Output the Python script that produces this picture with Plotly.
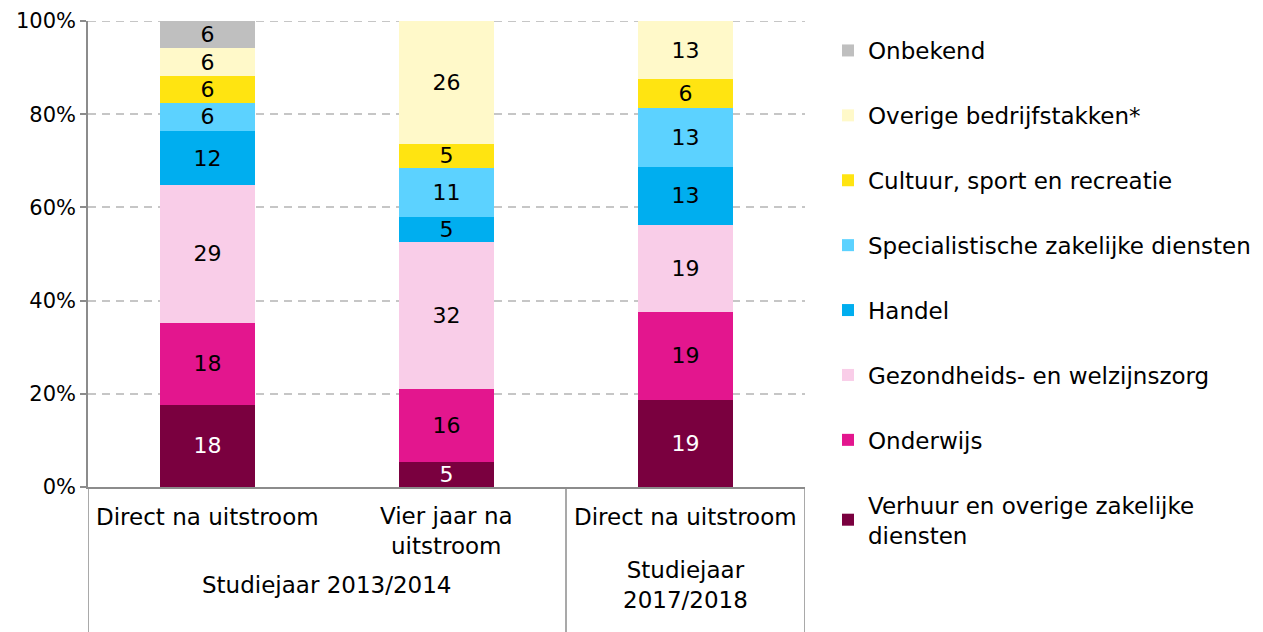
import plotly.graph_objects as go

# Data (percentages per bar, bottom to top)
categories = ["Direct na uitstroom", "Vier jaar na<br>uitstroom", "Direct na uitstroom"]
groups = ["Studiejaar 2013/2014", "Studiejaar<br>2017/2018"]
series = [
    "Verhuur en overige zakelijke<br>diensten",
    "Onderwijs",
    "Gezondheids- en welzijnszorg",
    "Handel",
    "Specialistische zakelijke diensten",
    "Cultuur, sport en recreatie",
    "Overige bedrijfstakken*",
    "Onbekend",
]
verhuur = [17.65, 5.26, 18.75]
onderwijs = [17.65, 15.79, 18.75]
gezondheid = [29.41, 31.58, 18.75]
handel = [11.76, 5.26, 12.5]
specialistisch = [5.88, 10.53, 12.5]
cultuur = [5.88, 5.26, 6.25]
overige = [5.88, 26.32, 12.5]
onbekend = [5.88, 0, 0]
values = [verhuur, onderwijs, gezondheid, handel, specialistisch, cultuur, overige, onbekend]
colors = ["#7A003F", "#E3168E", "#F9CDE8", "#00AEEF", "#5CD2FF", "#FFE411", "#FFF9C9", "#BFBFBF"]
text_colors = ["white", "black", "black", "black", "black", "black", "black", "black"]
y_ticks = [0, 20, 40, 60, 80, 100]
y_ticklabels = [f"{v}%" for v in y_ticks]

FONT = "DejaVu Sans"
x_pos = list(range(len(categories)))

fig = go.Figure()
for i, (name, vals) in enumerate(zip(series, values)):
    fig.add_trace(go.Bar(
        x=x_pos, y=vals, name=name,
        marker=dict(color=colors[i], line=dict(width=0)),
        text=[str(int(v + 0.5)) if v > 0 else "" for v in vals],
        textposition="inside", insidetextanchor="middle", textangle=0,
        textfont=dict(family=FONT, size=22, color=text_colors[i]),
        legendgroup=f"g{i}", legendrank=100 - i,
        hoverinfo="skip",
    ))

GRID = dict(color="#C6C6C6", width=2, dash="8px,6px")

fig.update_layout(
    barmode="stack", bargap=0.605,
    width=1263, height=632,
    margin=dict(l=88, r=458, t=21, b=145, autoexpand=False),
    plot_bgcolor="white", paper_bgcolor="white",
    font=dict(family=FONT, size=21, color="black"),
    uniformtext=dict(minsize=22, mode="show"),
    showlegend=True,
    legend=dict(
        x=(828 - 88) / 717, xanchor="left", y=1.0 - 8 / 466, yanchor="top",
        traceorder="grouped", tracegroupgap=32, maxheight=630,
        font=dict(family=FONT, size=23, color="black"),
        itemclick=False, itemdoubleclick=False,
    ),
    xaxis=dict(
        range=[-0.5, 2.5], showticklabels=False, showgrid=False,
        showline=True, linecolor="#8C8C8C", linewidth=1.5, zeroline=False, ticks="",
        automargin=False,
    ),
    yaxis=dict(
        range=[0, 100], tickvals=y_ticks, ticktext=y_ticklabels,
        showgrid=True, gridcolor=GRID["color"], griddash=GRID["dash"], gridwidth=GRID["width"],
        showline=True, linecolor="#8C8C8C", linewidth=1.5,
        ticks="outside", ticklen=6, tickcolor="#8C8C8C", tickwidth=1.5,
        zeroline=False, tickfont=dict(family=FONT, size=21, color="black"),
        automargin=False,
    ),
)

# top gridline at 100% (plotly may skip the one on the range edge)
fig.add_shape(type="line", xref="paper", yref="y", x0=0, x1=1, y0=y_ticks[-1], y1=y_ticks[-1],
              line=GRID, layer="below")

# Multi-level category axis: labels and dividers
plot_h = 632 - 21 - 145
def py(px_below):
    return -px_below / plot_h

line_style = dict(color="#8C8C8C", width=1.5)
for xd in [-0.5, 1.5, 2.5]:
    fig.add_shape(type="line", xref="x", yref="paper", x0=xd, x1=xd,
                  y0=0, y1=py(145), line=line_style, layer="above")

for xi, lab in zip(x_pos, categories):
    fig.add_annotation(x=xi, y=py(30) if "<br>" not in lab else py(44), xref="x", yref="paper",
                       text=lab, showarrow=False, yanchor="middle",
                       font=dict(family=FONT, size=23, color="black"))

group_centers = [0.5, 2]
for xc, g in zip(group_centers, groups):
    fig.add_annotation(x=xc, y=py(98), xref="x", yref="paper", text=g,
                       showarrow=False, yanchor="middle",
                       font=dict(family=FONT, size=23, color="black"))

fig.write_html("out.html", config={"displayModeBar": False},
               post_script="document.body.style.margin='0';document.body.style.overflow='hidden';")
